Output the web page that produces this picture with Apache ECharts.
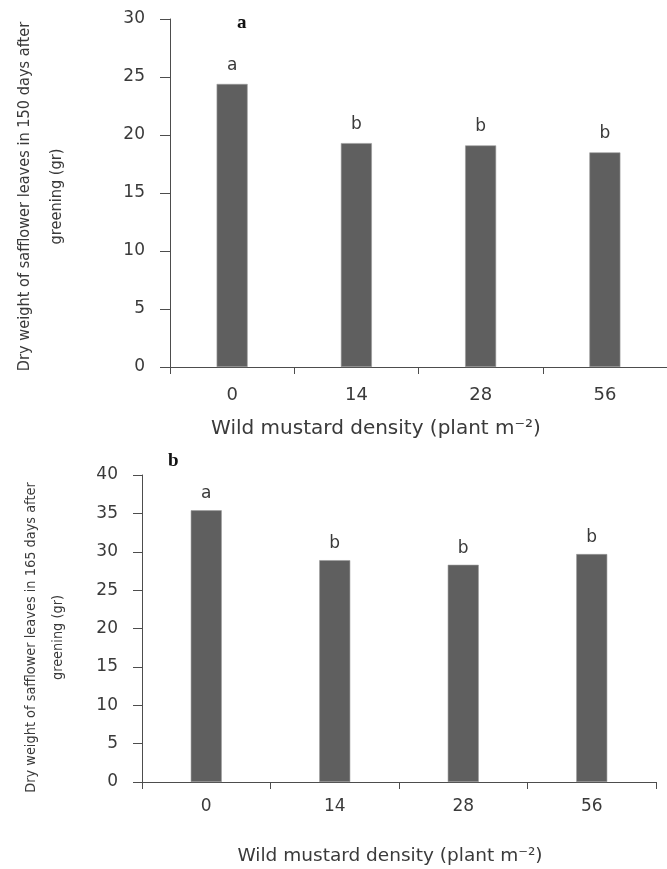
<!DOCTYPE html>
<html>
<head>
<meta charset="utf-8">
<script src="https://cdn.jsdelivr.net/npm/echarts@6/dist/echarts.min.js"></script>
<style>
  html, body { margin: 0; padding: 0; background: #fff; }
  #chart { width: 667px; height: 869px; }
</style>
</head>
<body>
<div id="chart"></div>
<script>
// wild mustard density (plant m-2)
var densities = ['0', '14', '28', '56'];
// dry weight of safflower leaves (gr), 150 and 165 days after greening
var dryWeight150 = [24.4, 19.3, 19.1, 18.5];
var dryWeight165 = [35.4, 28.9, 28.3, 29.7];
// significance letters over the bars
var letters150 = ['a', 'b', 'b', 'b'];
var letters165 = ['a', 'b', 'b', 'b'];

var axisColor = '#4d4d4d';
var textColor = '#3a3a3a';
var numFont = 'DejaVu Sans';
var nameFont = "'Liberation Sans Narrow', 'DejaVu Sans Condensed', sans-serif";

var myChart = echarts.init(document.getElementById('chart'));

function xAxisFor(gridIndex, labelSize, labelMargin, nameSize, nameGap, namePad) {
    return {
        type: 'category',
        gridIndex: gridIndex,
        data: densities,
        name: 'Wild mustard density (plant m\u207B\u00B2)',
        nameLocation: 'middle',
        nameGap: nameGap,
        nameTextStyle: { color: textColor, fontFamily: numFont, fontSize: nameSize, padding: [0, namePad, 0, 0] },
        axisLine: { lineStyle: { color: axisColor, width: 1 } },
        axisTick: { show: true, length: 7, lineStyle: { color: axisColor } },
        axisLabel: { color: textColor, fontFamily: numFont, fontSize: labelSize, margin: labelMargin },
        splitLine: { show: false }
    };
}

function yAxisFor(gridIndex, max, title, nameSize, lineH, nameGap, namePad, labelMargin, tickLen) {
    return {
        type: 'value',
        gridIndex: gridIndex,
        min: 0,
        max: max,
        interval: 5,
        name: title,
        nameLocation: 'middle',
        nameGap: nameGap,
        nameTextStyle: { color: textColor, fontFamily: nameFont, fontSize: nameSize, lineHeight: lineH, padding: [0, namePad, 0, 0] },
        axisLine: { show: true, lineStyle: { color: axisColor, width: 1 } },
        axisTick: { show: true, length: tickLen, lineStyle: { color: axisColor } },
        axisLabel: { color: textColor, fontFamily: numFont, fontSize: 17, margin: labelMargin },
        splitLine: { show: false }
    };
}

function barSeries(idx, values, letters, dist) {
    return {
        type: 'bar',
        xAxisIndex: idx,
        yAxisIndex: idx,
        data: values,
        barWidth: 31,
        itemStyle: { color: '#5f5f5f', borderColor: '#9a9a9a', borderWidth: 0.6 },
        label: {
            show: true,
            position: 'top',
            distance: dist,
            color: textColor,
            fontFamily: numFont,
            fontSize: 17,
            formatter: function (p) { return letters[p.dataIndex]; }
        }
    };
}

var option = {
    backgroundColor: '#fff',
    animation: false,
    title: [
        { text: 'a', left: 237, top: 14, padding: 0,
          textStyle: { fontFamily: 'Liberation Serif', fontWeight: 'bold', fontSize: 19, color: '#111' } },
        { text: 'b', left: 168, top: 452, padding: 0,
          textStyle: { fontFamily: 'Liberation Serif', fontWeight: 'bold', fontSize: 19, color: '#111' } }
    ],
    grid: [
        { left: 170, top: 19, width: 503, height: 348 },
        { left: 142, top: 475, width: 514, height: 307 }
    ],
    xAxis: [
        xAxisFor(0, 18, 19, 20, 52, 85),
        xAxisFor(1, 17, 16, 18.5, 65, 18)
    ],
    yAxis: [
        yAxisFor(0, 30, 'Dry weight of safflower leaves in 150 days after\ngreening (gr)', 16.2, 32, 97, 7, 25, 10),
        yAxisFor(1, 40, 'Dry weight of safflower leaves in 165 days after\ngreening (gr)', 14.4, 27, 70, 18, 24, 9)
    ],
    series: [
        barSeries(0, dryWeight150, letters150, 10),
        barSeries(1, dryWeight165, letters165, 8)
    ]
};

myChart.setOption(option);
</script>
</body>
</html>
